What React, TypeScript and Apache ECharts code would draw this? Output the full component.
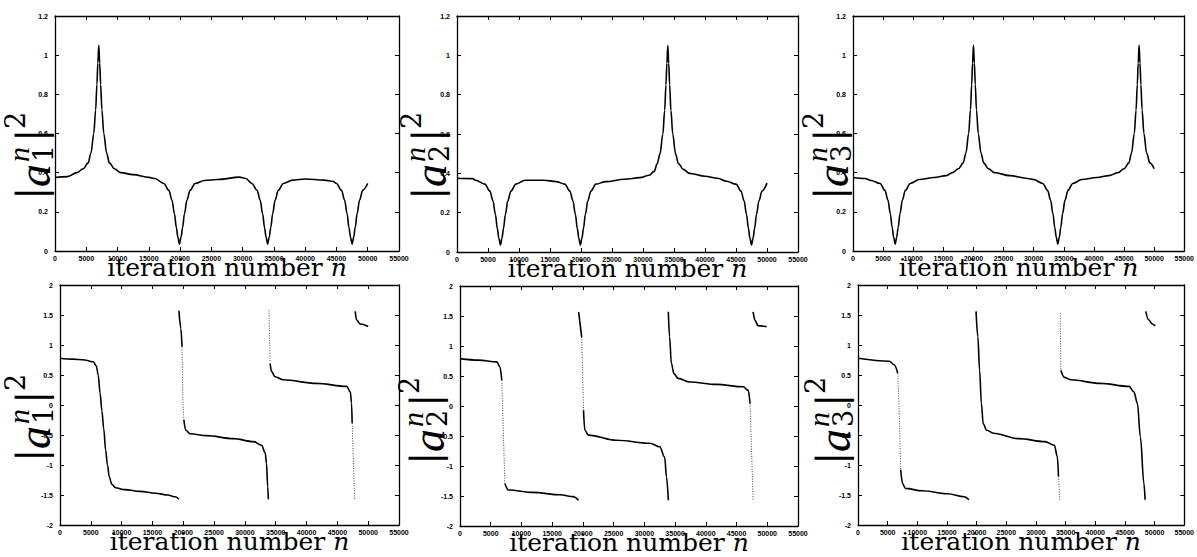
import React, { useEffect, useRef } from "react";
import * as echarts from "echarts";

// ---- axis settings ----
const xMin = 0;
const xMax = 55000;
const xStep = 5000;
const topYMin = 0;
const topYMax = 1.2;
const topYStep = 0.2;
const botYMin = -2;
const botYMax = 2;
const botYStep = 0.5;
const xTitle = "iteration number ";
const xVar = "n";
const indices = ["1", "2", "3"];

// ---- top row: |a_k^n|^2 ----
const top1: number[][] = [
  [0, 0.375], [2000, 0.38], [3500, 0.4], [4500, 0.42], [5300, 0.45], [5750, 0.5], [6200, 0.6], [6500, 0.72],
  [6700, 0.85], [6850, 0.96], [7000, 1.05], [7150, 0.96], [7300, 0.85], [7500, 0.72], [7800, 0.6], [8250, 0.5],
  [8700, 0.45], [9500, 0.42], [10500, 0.4], [12500, 0.39], [15000, 0.376], [16000, 0.37], [17400, 0.345],
  [18200, 0.31], [18700, 0.26], [19100, 0.19], [19400, 0.12], [19650, 0.07], [19900, 0.035], [20150, 0.07],
  [20400, 0.12], [20700, 0.19], [21100, 0.26], [21600, 0.31], [22400, 0.345], [23900, 0.36], [26000, 0.365],
  [29500, 0.377], [30500, 0.37], [31500, 0.345], [32300, 0.31], [32800, 0.26], [33200, 0.19], [33500, 0.12],
  [33750, 0.07], [34000, 0.035], [34250, 0.07], [34500, 0.12], [34800, 0.19], [35200, 0.26], [35700, 0.31],
  [36500, 0.345], [38000, 0.362], [40000, 0.368], [43000, 0.362], [44500, 0.355], [45000, 0.345], [45800, 0.31],
  [46300, 0.26], [46700, 0.19], [47000, 0.12], [47250, 0.07], [47500, 0.035], [47750, 0.07], [48000, 0.12],
  [48300, 0.19], [48700, 0.26], [49200, 0.31], [50000, 0.345],
];
const top2: number[][] = [
  [0, 0.375], [2500, 0.373], [3000, 0.365], [4500, 0.345], [5300, 0.31], [5800, 0.26], [6200, 0.19], [6500, 0.12],
  [6750, 0.07], [7000, 0.035], [7250, 0.07], [7500, 0.12], [7800, 0.19], [8200, 0.26], [8700, 0.31], [9500, 0.345],
  [11000, 0.365], [14000, 0.365], [16000, 0.358], [17400, 0.345], [18200, 0.31], [18700, 0.26], [19100, 0.19],
  [19400, 0.12], [19650, 0.07], [19900, 0.035], [20150, 0.07], [20400, 0.12], [20700, 0.19], [21100, 0.26],
  [21600, 0.31], [22400, 0.345], [24000, 0.358], [27000, 0.37], [29500, 0.378], [31000, 0.39], [31800, 0.41],
  [32300, 0.45], [32750, 0.5], [33200, 0.6], [33500, 0.72], [33700, 0.85], [33850, 0.96], [34000, 1.05],
  [34150, 0.96], [34300, 0.85], [34500, 0.72], [34800, 0.6], [35250, 0.5], [35700, 0.45], [36500, 0.42],
  [37500, 0.4], [40000, 0.385], [42000, 0.375], [43500, 0.36], [45000, 0.345], [45800, 0.31], [46300, 0.26],
  [46700, 0.19], [47000, 0.12], [47250, 0.07], [47500, 0.035], [47750, 0.07], [48000, 0.12], [48300, 0.19],
  [48700, 0.26], [49200, 0.31], [50000, 0.35],
];
const top3: number[][] = [
  [0, 0.375], [2000, 0.37], [3000, 0.36], [4500, 0.345], [5300, 0.31], [5800, 0.26], [6200, 0.19], [6500, 0.12],
  [6750, 0.07], [7000, 0.035], [7250, 0.07], [7500, 0.12], [7800, 0.19], [8200, 0.26], [8700, 0.31], [9500, 0.345],
  [11000, 0.365], [13500, 0.375], [15500, 0.385], [16500, 0.4], [17500, 0.42], [18300, 0.45], [18750, 0.5],
  [19200, 0.6], [19500, 0.72], [19700, 0.85], [19850, 0.96], [20000, 1.05], [20150, 0.96], [20300, 0.85],
  [20500, 0.72], [20800, 0.6], [21250, 0.5], [21700, 0.45], [22500, 0.42], [23500, 0.4], [26000, 0.385],
  [29000, 0.37], [30000, 0.365], [31500, 0.345], [32300, 0.31], [32800, 0.26], [33200, 0.19], [33500, 0.12],
  [33750, 0.07], [34000, 0.035], [34250, 0.07], [34500, 0.12], [34800, 0.19], [35200, 0.26], [35700, 0.31],
  [36500, 0.345], [38000, 0.365], [40500, 0.375], [42500, 0.385], [44000, 0.4], [45000, 0.42], [45800, 0.45],
  [46250, 0.5], [46700, 0.6], [47000, 0.72], [47200, 0.85], [47350, 0.96], [47500, 1.05], [47650, 0.96],
  [47800, 0.85], [48000, 0.72], [48300, 0.6], [48750, 0.5], [49300, 0.45], [50000, 0.42],
];

// ---- bottom row: solid pieces and sparse (dotted) steep pieces ----
const bot1Solid: number[][][] = [
  [[0, 0.78], [2000, 0.765], [4000, 0.75], [5400, 0.72], [5900, 0.65], [6200, 0.5], [6500, 0.2], [6800, -0.1],
   [7100, -0.4], [7400, -0.75], [7700, -1.0], [8000, -1.2], [8400, -1.32], [9000, -1.38], [10500, -1.41],
   [13000, -1.44], [15500, -1.47], [17500, -1.5], [18700, -1.53], [19300, -1.57]],
  [[19300, 1.57], [19600, 1.28], [19800, 0.97]],
  [[20100, -0.25], [20400, -0.42], [21100, -0.48], [23800, -0.51], [28100, -0.56], [31400, -0.61], [32700, -0.67],
   [33300, -0.8], [33500, -0.97], [33700, -1.36], [33800, -1.57]],
  [[34100, 0.69], [34300, 0.56], [34900, 0.47], [36200, 0.42], [41600, 0.36], [46500, 0.31], [47100, 0.22],
   [47300, 0.03], [47400, -0.3]],
  [[47900, 1.56], [48100, 1.42], [48700, 1.35], [50000, 1.31]],
];
const bot1Dotted: number[][][] = [
  [[19800, 0.97], [19950, 0.03], [20100, -0.25]],
  [[33900, 1.58], [34100, 0.69]],
  [[47400, -0.3], [47800, -1.58]],
];
const bot2Solid: number[][][] = [
  [[0, 0.79], [3000, 0.765], [6000, 0.735], [6500, 0.65], [6800, 0.43]],
  [[7300, -1.29], [7900, -1.4], [11900, -1.44], [16300, -1.48], [18400, -1.51], [19300, -1.57]],
  [[19300, 1.57], [19800, 1.15]],
  [[20100, -0.07], [20300, -0.4], [20900, -0.485], [25500, -0.57], [30900, -0.62], [32500, -0.68], [33300, -0.85],
   [33600, -1.18], [33900, -1.57]],
  [[33900, 1.57], [34100, 1.15], [34400, 0.71], [34800, 0.54], [35500, 0.46], [37400, 0.4], [41700, 0.36],
   [46100, 0.32], [46900, 0.26], [47200, 0.04]],
  [[47700, 1.57], [48000, 1.43], [48500, 1.34], [49900, 1.32]],
];
const bot2Dotted: number[][][] = [
  [[6800, 0.43], [7300, -1.29]],
  [[19800, 1.15], [20100, -0.07]],
  [[47200, 0.04], [47700, -1.57]],
];
const bot3Solid: number[][][] = [
  [[0, 0.78], [5300, 0.73], [6100, 0.67], [6700, 0.53]],
  [[7200, -1.08], [7500, -1.31], [8000, -1.39], [10800, -1.43], [15100, -1.48], [17900, -1.53], [18700, -1.58]],
  [[19900, 1.56], [20200, 1.14], [20500, 0.58], [20800, 0.03], [21100, -0.31], [21700, -0.42], [22800, -0.47],
   [27100, -0.56], [31500, -0.61], [33100, -0.67], [33600, -0.86], [33800, -1.19]],
  [[34200, 0.58], [34800, 0.46], [35900, 0.42], [40800, 0.36], [45700, 0.31], [46500, 0.22], [47100, 0.03],
   [47600, -0.53], [48200, -1.31], [48400, -1.58]],
  [[48500, 1.56], [49000, 1.42], [49600, 1.35], [50100, 1.32]],
];
const bot3Dotted: number[][][] = [
  [[6700, 0.53], [6900, 0.03], [7200, -1.08]],
  [[33800, -1.19], [34000, -1.58]],
  [[34100, 1.53], [34200, 0.58]],
];

// ---- layout ----
const grids = [
  { left: 55, top: 16, width: 344, height: 235 },
  { left: 457, top: 16, width: 341, height: 236 },
  { left: 853, top: 16, width: 340, height: 235 },
  { left: 60, top: 285, width: 339, height: 240 },
  { left: 460, top: 286, width: 338, height: 240 },
  { left: 858, top: 285, width: 336, height: 240 },
];
const labelAnchors = [
  [31, 200], [427, 200], [829, 200],
  [31, 462], [425, 465], [831, 465],
];

const SERIF = '"DejaVu Serif", "Liberation Serif", serif';
const ITALIC_SERIF = '"Liberation Serif", "DejaVu Serif", serif';

function yLabel(index: string, x: number, y: number) {
  const big = 40;
  const small = 27;
  const base = { fill: "#000", fontFamily: SERIF, verticalAlign: "middle", align: "left", textVerticalAlign: "middle", textAlign: "left" };
  return {
    type: "group",
    x,
    y,
    rotation: Math.PI / 2,
    silent: true,
    children: [
      { type: "text", x: 0, y: 0, style: { ...base, text: "|", fontSize: big } },
      { type: "text", x: 13, y: 3, style: { ...base, text: "a", fontSize: big + 6, fontStyle: "italic", fontFamily: ITALIC_SERIF } },
      { type: "text", x: 38, y: -13, style: { ...base, text: "n", fontSize: small + 3, fontStyle: "italic", fontFamily: ITALIC_SERIF } },
      { type: "text", x: 38, y: 12, style: { ...base, text: index, fontSize: small } },
      { type: "text", x: 58, y: 0, style: { ...base, text: "|", fontSize: big } },
      { type: "text", x: 71, y: -16, style: { ...base, text: "2", fontSize: small } },
    ],
  };
}

export default function App() {
  const ref = useRef<HTMLDivElement>(null);
  useEffect(() => {
    if (!ref.current) return;
    const chart = echarts.init(ref.current, undefined, { renderer: "svg" });
    const axisLine = { show: true, onZero: false, lineStyle: { color: "#000", width: 1.3 } };
    const axisTick = { show: true, inside: true, length: 4, lineStyle: { color: "#000", width: 1 } };
    const tickFont = { fontSize: 7, fontWeight: "bold" as const, color: "#000", fontFamily: '"Liberation Sans", Arial, sans-serif' };

    const xAxes: any[] = [];
    const yAxes: any[] = [];
    grids.forEach((_, i) => {
      const isTop = i < 3;
      const ymin = isTop ? topYMin : botYMin;
      const ymax = isTop ? topYMax : botYMax;
      const ystep = isTop ? topYStep : botYStep;
      xAxes.push({
        gridIndex: i, type: "value", position: "bottom", min: xMin, max: xMax, interval: xStep,
        axisLine, axisTick, splitLine: { show: false },
        axisLabel: { ...tickFont, margin: 4, hideOverlap: false, formatter: (v: number) => String(v) },
        name: xTitle + "{i|" + xVar + "}", nameLocation: "middle", nameGap: 5, nameMoveOverlap: false,
        nameTextStyle: {
          fontFamily: SERIF, fontSize: 25, color: "#000", verticalAlign: "top", lineHeight: 22,
          rich: { i: { fontFamily: SERIF, fontSize: 25, fontStyle: "italic", color: "#000", lineHeight: 22 } },
        },
      });
      xAxes.push({
        gridIndex: i, type: "value", position: "top", min: xMin, max: xMax, interval: xStep,
        axisLine, axisTick, splitLine: { show: false }, axisLabel: { show: false },
      });
      yAxes.push({
        gridIndex: i, type: "value", position: "left", min: ymin, max: ymax, interval: ystep,
        axisLine, axisTick, splitLine: { show: false },
        axisLabel: { ...tickFont, margin: 7, formatter: (v: number) => String(v) },
      });
      yAxes.push({
        gridIndex: i, type: "value", position: "right", min: ymin, max: ymax, interval: ystep,
        axisLine, axisTick, splitLine: { show: false }, axisLabel: { show: false },
      });
    });

    const series: any[] = [];
    const solid = (data: number[][], g: number) => ({
      type: "line", xAxisIndex: g * 2, yAxisIndex: g * 2, data, showSymbol: false, symbol: "none",
      smooth: 0.35, smoothMonotone: "x",
      lineStyle: { color: "#000", width: 1.6 }, silent: true, clip: true,
    });
    const dotted = (data: number[][], g: number) => ({
      type: "line", xAxisIndex: g * 2, yAxisIndex: g * 2, data, showSymbol: false, symbol: "none",
      lineStyle: { color: "#444", width: 1, type: [1, 1.5] }, silent: true, clip: true,
    });
    [top1, top2, top3].forEach((d, g) => series.push(solid(d, g)));
    [bot1Solid, bot2Solid, bot3Solid].forEach((segs, k) => segs.forEach((d) => series.push(solid(d, k + 3))));
    [bot1Dotted, bot2Dotted, bot3Dotted].forEach((segs, k) => segs.forEach((d) => series.push(dotted(d, k + 3))));

    const graphics = labelAnchors.map((a, i) => yLabel(indices[i % 3], a[0], a[1]));

    chart.setOption({
      animation: false,
      backgroundColor: "#fff",
      grid: grids.map((g) => ({ ...g, containLabel: false })),
      xAxis: xAxes,
      yAxis: yAxes,
      series,
      graphic: graphics,
    });
    return () => chart.dispose();
  }, []);
  return (
    <div
      ref={ref}
      style={{ position: "fixed", left: 0, top: 0, width: 1197, height: 557, background: "#fff" }}
    />
  );
}
